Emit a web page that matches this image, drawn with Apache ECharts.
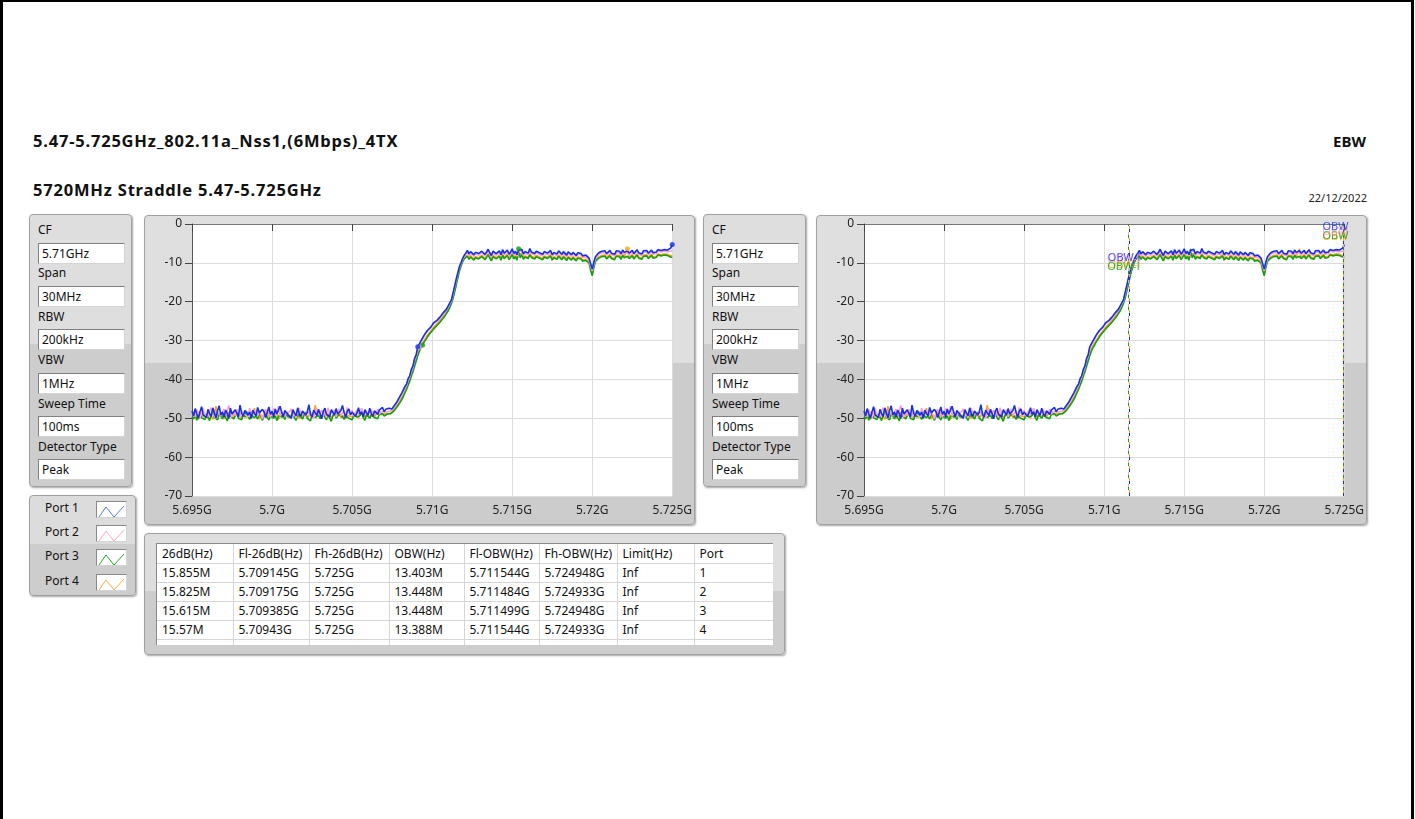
<!DOCTYPE html>
<html>
<head>
<meta charset="utf-8">
<title>EBW 5720MHz Straddle</title>
<script src="https://cdn.jsdelivr.net/npm/echarts@6/dist/echarts.min.js"></script>
<style>
html,body{margin:0;padding:0;background:#fff;}
body{width:1415px;height:819px;position:relative;overflow:hidden;font-family:'Noto Sans',sans-serif;color:#111;}
#frame{position:absolute;left:0;top:0;width:1414px;height:819px;box-sizing:border-box;border-left:3px solid #000;border-right:3px solid #000;border-top:2px solid #000;}
.title{position:absolute;font-weight:bold;font-size:16.5px;letter-spacing:0.8px;line-height:20px;white-space:nowrap;color:#111;}
.date{position:absolute;font-size:11px;line-height:14px;white-space:nowrap;color:#222;}
.panel{position:absolute;box-sizing:border-box;border:1px solid #a0a0a0;border-radius:4px;box-shadow:1px 1px 2px rgba(0,0,0,0.35);}
.lbl{position:absolute;left:8px;font-size:12px;line-height:16px;white-space:nowrap;}
.fld{position:absolute;left:8px;width:87px;height:21px;box-sizing:border-box;background:#fff;border:1px solid #808080;border-right-color:#d4d4d4;border-bottom-color:#d4d4d4;font-size:12px;line-height:19px;padding-left:3px;white-space:nowrap;}
.chart{position:absolute;}
.legrow{position:absolute;left:15px;font-size:12px;line-height:16px;white-space:nowrap;}
.legicon{position:absolute;left:66px;width:31px;height:17px;box-sizing:border-box;background:#fff;border:1px solid #8a8a8a;border-right-color:#d4d4d4;border-bottom-color:#d4d4d4;}
.tblwrap{position:absolute;left:11px;top:9px;width:617px;height:102px;overflow:hidden;background:#fff;border-top:1px solid #8a8a8a;border-left:1px solid #8a8a8a;box-sizing:border-box;}
table{border-collapse:collapse;table-layout:fixed;font-size:12px;}
td{border-right:1px solid #d6d6d6;border-bottom:1px solid #d6d6d6;padding:0 0 0 5px;height:18px;line-height:18px;white-space:nowrap;overflow:hidden;}
tr.hd td{height:19px;line-height:19px;}
tr.pad td{height:8px;}
</style>
</head>
<body>
<div id="frame"></div>

<div class="title" style="left:33px;top:131px;">5.47-5.725GHz_802.11a_Nss1,(6Mbps)_4TX</div>
<div class="title" style="right:49px;top:131px;font-size:15px;letter-spacing:0;">EBW</div>
<div class="title" style="left:33px;top:180px;">5720MHz Straddle 5.47-5.725GHz</div>
<div class="date" style="right:48px;top:191px;">22/12/2022</div>

<div id="set1" class="panel" style="left:29px;top:214px;width:103px;height:273px;background:linear-gradient(#dedede 0,#dedede 129px,#cdcdcd 129px);"></div>
<div id="set2" class="panel" style="left:703px;top:214px;width:103px;height:273px;background:linear-gradient(#dedede 0,#dedede 129px,#cdcdcd 129px);"></div>

<div class="panel" style="left:144px;top:215px;width:551px;height:310px;background:linear-gradient(#dfdfdf 0,#dfdfdf 147px,#cccccc 147px);"></div>
<div id="chartL" class="chart" style="left:144px;top:215px;width:551px;height:310px;"></div>

<div class="panel" style="left:816px;top:215px;width:551px;height:310px;background:linear-gradient(#dfdfdf 0,#dfdfdf 147px,#cccccc 147px);"></div>
<div id="chartR" class="chart" style="left:816px;top:215px;width:551px;height:310px;"></div>

<div id="legend" class="panel" style="left:29px;top:495px;width:107px;height:101px;background:linear-gradient(#dcdcdc 0,#dcdcdc 48px,#cdcdcd 48px);"></div>

<div id="tblPanel" class="panel" style="left:144px;top:533px;width:641px;height:122px;background:linear-gradient(#dedede 0,#dedede 57px,#cdcdcd 57px);">
  <div class="tblwrap"><table id="tbl"></table></div>
</div>

<script>
// Analyzer settings shown beside each trace window
const settingNames  = ['CF', 'Span', 'RBW', 'VBW', 'Sweep Time', 'Detector Type'];
const settingValues = ['5.71GHz', '30MHz', '200kHz', '1MHz', '100ms', 'Peak'];

// Sweep: 301 points, 5.695 GHz to 5.725 GHz in 0.1 MHz steps (values in dBm)
const sweepStartMHz = 5695;
const sweepStepMHz = 0.1;

const port1 = [
  // 5695.0 - 5707.4
  -48.1,-49.4,-47.5,-48.9,-50.0,-48.3,-47.0,-49.1,-48.6,-49.8,
  -47.7,-48.8,-49.6,-47.3,-48.5,-49.9,-48.0,-46.8,-49.2,-48.4,
  -49.7,-47.9,-48.7,-50.1,-47.4,-48.9,-49.3,-47.8,-48.2,-49.6,
  -46.6,-48.7,-49.5,-48.0,-47.6,-49.2,-48.4,-50.0,-47.9,-48.8,
  -49.4,-47.2,-48.6,-49.1,-47.7,-48.3,-49.8,-48.5,-47.1,-49.0,
  -48.2,-49.6,-47.6,-48.9,-49.3,-46.9,-48.4,-49.7,-48.0,-47.5,
  -49.1,-48.6,-50.0,-47.8,-48.3,-49.4,-47.3,-48.8,-49.5,-48.1,
  -47.6,-49.2,-48.5,-46.5,-48.9,-49.7,-47.9,-48.4,-49.3,-47.7,
  -48.8,-50.1,-48.2,-47.4,-49.0,-48.6,-49.6,-47.8,-48.3,-49.2,
  -47.5,-48.9,-49.4,-48.0,-46.7,-48.5,-49.8,-48.2,-47.6,-49.1,
  -48.4,-47.9,-49.5,-48.7,-47.3,-49.0,-48.3,-49.6,-47.8,-48.6,
  -49.2,-47.4,-48.8,-49.5,-48.1,-47.6,-49.0,-47.9,-48.4,-47.2,
  -48.3,-47.7,-48.0,-47.4,-47.9,
  // 5707.5 - 5712.0
  -47.6,-46.9,-46.5,-45.8,-45.0,-44.6,-43.5,-43.1,-41.8,-41.2,
  -39.8,-39.1,-37.4,-36.6,-34.6,-33.7,-31.6,-31.2,-30.1,-30.3,
  -28.6,-29.0,-27.4,-27.9,-26.6,-26.9,-25.4,-25.9,-24.8,-25.2,
  -23.9,-24.3,-22.8,-23.3,-21.9,-21.7,-20.3,-19.6,-17.8,-16.1,
  -14.2,-12.6,-11.0,-10.0,-8.9,-8.1,
  // 5712.1 - 5719.7
  -7.5,-6.8,-7.7,-7.1,-6.6,-7.9,-7.3,-6.9,-7.6,-8.0,
  -7.0,-6.7,-7.8,-7.2,-6.5,-7.4,-8.1,-7.0,-6.8,-7.6,
  -7.3,-6.9,-7.9,-6.6,-7.5,-7.1,-6.7,-7.8,-7.2,-6.4,
  -7.6,-7.0,-7.9,-6.8,-7.3,-6.5,-7.7,-7.1,-6.9,-7.5,
  -6.3,-7.2,-6.8,-7.6,-7.0,-6.6,-7.4,-6.9,-7.8,-7.1,
  -6.7,-7.5,-7.2,-6.8,-7.9,-7.3,-7.0,-7.7,-6.9,-7.4,
  -7.8,-7.1,-7.5,-8.0,-7.2,-7.6,-7.9,-7.3,-7.7,-8.1,
  -7.4,-7.8,-7.6,-8.2,-7.9,-8.0,-8.3,
  // 5719.8 - 5720.2
  -8.8,-10.2,-11.6,-9.8,-8.4,
  // 5720.3 - 5725.0
  -7.9,-7.4,-7.7,-7.0,-7.5,-6.9,-7.6,-7.2,-6.8,-7.5,
  -7.1,-7.8,-6.9,-7.4,-7.0,-7.7,-6.7,-7.3,-7.6,-6.9,
  -7.5,-7.1,-6.8,-7.6,-7.2,-6.6,-7.4,-7.0,-7.7,-6.9,
  -7.3,-6.8,-7.5,-7.1,-6.7,-7.4,-6.9,-7.2,-6.6,-7.0,
  -6.8,-7.3,-6.6,-7.0,-6.7,-6.4,-6.2,-5.3
];
const port2 = [
  -48.9,-48.2,-49.6,-47.8,-48.6,-49.9,-48.4,-47.5,-49.2,-48.7,
  -49.5,-48.0,-47.3,-49.1,-48.8,-50.0,-48.3,-47.9,-49.4,-48.5,
  -47.6,-49.2,-48.9,-46.7,-48.4,-49.7,-48.1,-49.3,-47.8,-48.6,
  -49.8,-48.2,-47.7,-49.0,-48.5,-49.6,-47.4,-48.8,-49.3,-48.0,
  -48.7,-49.5,-47.9,-48.3,-50.1,-48.6,-47.6,-49.1,-48.4,-49.7,
  -48.1,-47.5,-49.2,-48.8,-46.9,-49.4,-48.2,-47.8,-49.6,-48.5,
  -49.0,-48.3,-47.6,-49.5,-48.7,-49.9,-48.0,-47.4,-48.9,-49.3,
  -48.4,-49.7,-48.1,-47.7,-49.2,-48.6,-50.0,-48.3,-47.5,-49.1,
  -48.8,-47.9,-49.4,-48.2,-49.8,-47.3,-48.7,-49.0,-48.5,-47.8,
  -49.6,-48.4,-47.6,-49.3,-48.9,-48.1,-49.7,-47.2,-48.6,-49.2,
  -48.0,-49.5,-48.7,-47.9,-49.1,-48.3,-47.4,-49.4,-48.8,-48.2,
  -49.0,-48.5,-47.7,-49.3,-48.1,-48.7,-47.6,-48.9,-48.3,-47.8,
  -48.4,-48.0,-48.3,-47.8,-48.1,
  -47.9,-47.3,-46.8,-46.1,-45.4,-44.9,-43.9,-43.4,-42.2,-41.6,
  -40.2,-39.5,-37.8,-37.0,-35.0,-34.1,-32.0,-31.7,-30.4,-30.0,
  -28.9,-28.6,-27.6,-27.3,-26.7,-26.4,-25.6,-25.3,-25.1,-24.8,
  -24.2,-23.9,-23.2,-22.9,-22.1,-21.8,-20.6,-19.8,-18.1,-16.5,
  -14.6,-12.9,-11.3,-10.3,-9.2,-8.4,
  -7.9,-7.2,-8.1,-7.5,-7.0,-8.3,-7.7,-7.3,-8.0,-8.4,
  -7.4,-7.1,-8.2,-7.6,-6.9,-7.8,-8.5,-7.4,-7.2,-8.0,
  -7.7,-7.3,-8.3,-7.0,-7.9,-7.5,-7.1,-8.2,-7.6,-6.8,
  -8.0,-7.4,-8.3,-7.2,-7.7,-6.9,-8.1,-7.5,-7.3,-7.9,
  -6.9,-7.6,-7.2,-8.0,-7.4,-7.0,-7.8,-7.3,-8.2,-7.5,
  -7.1,-7.9,-7.6,-7.2,-8.3,-7.7,-7.4,-8.1,-7.3,-7.8,
  -8.2,-7.5,-7.9,-8.4,-7.6,-8.0,-8.3,-7.7,-8.1,-8.5,
  -7.8,-8.2,-8.0,-8.6,-8.3,-8.4,-8.7,
  -9.2,-10.8,-12.0,-10.3,-8.8,
  -8.3,-7.8,-8.1,-7.4,-7.9,-7.3,-8.0,-7.6,-7.2,-7.9,
  -7.5,-8.2,-7.3,-7.8,-7.4,-8.1,-7.1,-7.7,-8.0,-7.3,
  -7.9,-7.5,-7.2,-8.0,-7.6,-7.0,-7.8,-7.4,-8.1,-7.3,
  -7.7,-7.2,-7.9,-7.5,-7.1,-7.8,-7.3,-7.6,-7.0,-7.4,
  -7.2,-7.7,-7.0,-7.4,-7.1,-7.3,-7.0,-6.8
];
const port3 = [
  -49.6,-50.2,-49.0,-50.5,-49.3,-48.7,-49.9,-49.4,-50.3,-48.9,
  -49.7,-50.6,-49.1,-47.8,-49.8,-49.3,-50.4,-48.9,-49.5,-50.1,
  -48.6,-49.8,-50.7,-49.2,-48.8,-49.6,-50.2,-49.4,-48.5,-50.0,
  -49.5,-50.4,-49.0,-49.7,-48.1,-49.5,-50.3,-49.1,-48.9,-49.9,
  -49.3,-50.2,-48.7,-49.6,-50.5,-49.2,-48.8,-49.7,-50.4,-49.4,
  -49.0,-50.0,-49.3,-50.6,-49.5,-48.9,-49.8,-49.2,-50.3,-48.6,
  -49.7,-50.1,-49.4,-48.8,-49.9,-50.5,-49.1,-48.7,-49.6,-50.2,
  -49.3,-48.4,-50.0,-49.5,-50.7,-49.0,-48.9,-49.8,-50.3,-49.2,
  -50.1,-49.4,-48.8,-49.7,-50.4,-49.1,-49.6,-50.8,-49.3,-48.7,
  -49.9,-50.2,-49.0,-48.5,-49.6,-50.3,-49.4,-48.9,-50.0,-49.5,
  -50.4,-49.2,-48.8,-49.7,-50.1,-49.3,-48.6,-49.9,-50.5,-49.1,
  -49.4,-50.0,-49.2,-48.7,-49.8,-49.3,-50.1,-49.0,-49.5,-48.8,
  -49.4,-49.1,-48.9,-49.2,-48.8,
  -48.6,-48.2,-47.8,-47.1,-46.5,-45.9,-45.2,-44.4,-43.5,-42.6,
  -41.5,-40.5,-39.2,-38.0,-36.7,-35.3,-33.9,-32.8,-31.8,-31.2,
  -30.4,-29.9,-29.1,-28.6,-28.0,-27.6,-27.0,-26.5,-26.1,-25.6,
  -25.2,-24.7,-24.2,-23.6,-23.0,-22.4,-21.5,-20.5,-19.2,-17.6,
  -15.8,-13.9,-12.2,-10.9,-9.8,-9.0,
  -8.9,-8.3,-9.1,-8.5,-8.0,-9.3,-8.7,-8.2,-9.0,-9.4,
  -8.4,-8.1,-9.2,-8.6,-7.9,-8.8,-9.5,-8.4,-8.2,-9.0,
  -8.7,-8.3,-9.3,-8.0,-8.9,-8.5,-8.1,-9.2,-8.6,-7.8,
  -9.0,-8.4,-9.3,-6.4,-8.7,-7.9,-9.1,-8.5,-8.3,-8.9,
  -7.9,-8.6,-8.2,-9.0,-8.4,-8.0,-8.8,-8.3,-9.2,-8.5,
  -8.1,-8.9,-8.6,-8.2,-9.3,-8.7,-8.4,-9.1,-8.3,-8.8,
  -9.2,-8.5,-8.9,-9.4,-8.6,-9.0,-9.3,-8.7,-9.1,-9.5,
  -8.8,-9.2,-9.0,-9.6,-9.3,-9.4,-9.7,
  -10.0,-11.9,-13.3,-11.2,-9.6,
  -9.3,-8.8,-9.1,-8.4,-8.9,-8.3,-9.0,-8.6,-8.2,-8.9,
  -8.5,-9.2,-8.3,-8.8,-8.4,-9.1,-8.1,-8.7,-9.0,-8.3,
  -8.9,-8.5,-8.2,-9.0,-8.6,-8.0,-8.8,-8.4,-9.1,-8.3,
  -8.7,-8.2,-8.9,-8.5,-8.1,-8.8,-8.3,-8.6,-8.0,-8.4,
  -8.2,-8.7,-8.0,-8.4,-8.1,-8.3,-8.5,-8.6
];
const port4 = [
  -49.2,-48.5,-50.0,-49.0,-50.4,-49.3,-48.2,-49.7,-49.1,-48.8,
  -50.1,-48.6,-49.4,-50.3,-48.9,-46.9,-49.5,-49.8,-48.7,-49.3,
  -50.2,-49.0,-49.6,-48.4,-49.2,-50.0,-48.8,-49.4,-47.7,-49.7,
  -48.9,-50.3,-49.1,-48.6,-49.8,-49.3,-48.5,-50.1,-49.0,-47.4,
  -49.5,-48.7,-50.2,-49.2,-48.9,-49.6,-48.4,-49.8,-49.1,-48.7,
  -49.7,-49.0,-49.4,-48.8,-50.3,-49.3,-48.9,-49.6,-49.0,-49.4,
  -48.6,-50.0,-49.2,-48.5,-49.9,-49.4,-48.3,-50.2,-48.8,-49.5,
  -49.1,-48.6,-50.1,-49.3,-48.7,-49.8,-49.0,-46.6,-49.5,-49.2,
  -48.9,-50.0,-49.3,-48.6,-49.7,-49.1,-48.5,-50.2,-49.4,-48.8,
  -49.6,-49.0,-48.4,-49.9,-49.2,-48.7,-50.1,-49.3,-48.9,-49.5,
  -49.0,-49.7,-48.6,-49.4,-50.0,-48.8,-49.3,-48.5,-49.8,-49.1,
  -48.7,-49.5,-49.0,-48.4,-49.6,-48.9,-49.2,-48.5,-49.1,-48.6,
  -48.9,-48.6,-48.8,-48.5,-48.7,
  -48.3,-47.9,-47.4,-46.8,-46.1,-45.5,-44.7,-43.9,-42.9,-42.0,
  -40.9,-39.8,-38.5,-37.3,-35.9,-34.6,-33.2,-32.2,-31.3,-30.8,
  -30.0,-29.4,-28.7,-28.1,-27.6,-27.1,-26.6,-26.1,-25.7,-25.2,
  -24.8,-24.3,-23.8,-23.2,-22.6,-22.0,-21.1,-20.1,-18.8,-17.2,
  -15.4,-13.5,-11.8,-10.5,-9.5,-8.7,
  -8.6,-8.0,-8.8,-8.2,-7.7,-9.0,-8.4,-7.9,-8.7,-9.1,
  -8.1,-7.8,-8.9,-8.3,-7.6,-8.5,-9.2,-8.1,-7.9,-8.7,
  -8.4,-8.0,-9.0,-7.7,-8.6,-8.2,-7.8,-8.9,-8.3,-7.5,
  -8.7,-8.1,-9.0,-7.9,-8.4,-7.6,-8.8,-8.2,-8.0,-8.6,
  -7.6,-8.3,-7.9,-8.7,-8.1,-7.7,-8.5,-8.0,-8.9,-8.2,
  -7.8,-8.6,-8.3,-7.9,-9.0,-8.4,-8.1,-8.8,-8.0,-8.5,
  -8.9,-8.2,-8.6,-9.1,-8.3,-8.7,-9.0,-8.4,-8.8,-9.2,
  -8.5,-8.9,-8.7,-9.3,-9.0,-9.1,-9.4,
  -9.7,-11.4,-12.8,-10.8,-9.2,
  -9.0,-8.5,-8.8,-8.1,-8.6,-8.0,-8.7,-8.3,-7.9,-8.6,
  -8.2,-8.9,-8.0,-8.5,-8.1,-8.8,-7.8,-8.4,-8.7,-6.4,
  -8.6,-8.2,-7.9,-8.7,-8.3,-7.7,-8.5,-8.1,-8.8,-8.0,
  -8.4,-7.9,-8.6,-8.2,-7.8,-8.5,-8.0,-8.3,-7.7,-8.1,
  -7.9,-8.4,-7.7,-8.1,-7.8,-8.0,-8.2,-8.1
];

// Result table (one row per port)
const tableHeader = ['26dB(Hz)', 'Fl-26dB(Hz)', 'Fh-26dB(Hz)', 'OBW(Hz)', 'Fl-OBW(Hz)', 'Fh-OBW(Hz)', 'Limit(Hz)', 'Port'];
const bw26   = ['15.855M', '15.825M', '15.615M', '15.57M'];
const fl26   = ['5.709145G', '5.709175G', '5.709385G', '5.70943G'];
const fh26   = ['5.725G', '5.725G', '5.725G', '5.725G'];
const obw    = ['13.403M', '13.448M', '13.448M', '13.388M'];
const flObw  = ['5.711544G', '5.711484G', '5.711499G', '5.711544G'];
const fhObw  = ['5.724948G', '5.724933G', '5.724948G', '5.724933G'];
const limit  = ['Inf', 'Inf', 'Inf', 'Inf'];
const portNo = ['1', '2', '3', '4'];

// Marker frequencies (MHz) on the left trace window: -26 dB edges and peaks
const markerMHz = [[5709.145, 5725.0], [5709.175], [5709.385, 5715.4], [5722.2]];
// Levels (dBm) at which the OBW-l / OBW-h marker captions sit
const obwLowLevel  = [-8.8, -9.0, -11.0, -10.6];
const obwHighLevel = [-0.8, -2.0, -3.0, -3.2];

const portNames  = ['Port 1', 'Port 2', 'Port 3', 'Port 4'];
const portColors = ['#1432e2', '#ff9fd0', '#14a014', '#ffa21e'];
const iconColors = ['#5778e0', '#f6a9d2', '#2a9e2a', '#ffab3e'];
const portValues = [port1, port2, port3, port4];

const FONT = "'Noto Sans', sans-serif";
const freqMHz = port1.map((_, i) => Math.round((sweepStartMHz + i * sweepStepMHz) * 10) / 10);
const toMHz = s => parseFloat(s) * 1000;
const nearest = f => Math.max(0, Math.min(freqMHz.length - 1, Math.round((f - sweepStartMHz) / sweepStepMHz)));

// ---- settings panels ----
const labelCY = [16, 59, 103, 146, 190, 233];
const fieldTop = [28, 71, 114, 158, 201, 244];
['set1', 'set2'].forEach(id => {
  const host = document.getElementById(id);
  settingNames.forEach((n, i) => {
    const l = document.createElement('div');
    l.className = 'lbl'; l.style.top = (labelCY[i] - 9) + 'px'; l.textContent = n;
    host.appendChild(l);
    const f = document.createElement('div');
    f.className = 'fld'; f.style.top = fieldTop[i] + 'px'; f.textContent = settingValues[i];
    host.appendChild(f);
  });
});

// ---- port legend ----
const legHost = document.getElementById('legend');
const rowCY = [13, 37, 61, 86];
portNames.forEach((n, i) => {
  const t = document.createElement('div');
  t.className = 'legrow'; t.style.top = (rowCY[i] - 9) + 'px'; t.textContent = n;
  legHost.appendChild(t);
  const ic = document.createElement('div');
  ic.className = 'legicon'; ic.style.top = (rowCY[i] - 8) + 'px';
  ic.innerHTML = '<svg width="29" height="15"><polyline points="2,13 9,3 17,13 27,2" fill="none" stroke="' + iconColors[i] + '" stroke-width="1"/></svg>';
  legHost.appendChild(ic);
});

// ---- result table ----
const colW = [76, 76, 80, 75, 75, 78, 77, 79];
const tbl = document.getElementById('tbl');
let html = '<colgroup>' + colW.map(w => '<col style="width:' + w + 'px">').join('') + '</colgroup>';
html += '<tr class="hd">' + tableHeader.map(h => '<td>' + h + '</td>').join('') + '</tr>';
for (let r = 0; r < 4; r++) {
  const row = [bw26[r], fl26[r], fh26[r], obw[r], flObw[r], fhObw[r], limit[r], portNo[r]];
  html += '<tr>' + row.map(v => '<td>' + v + '</td>').join('') + '</tr>';
}
html += '<tr class="pad">' + colW.map(() => '<td></td>').join('') + '</tr>';
tbl.innerHTML = html;
tbl.style.width = colW.reduce((a, b) => a + b, 0) + 'px';

// ---- trace windows ----
function buildOption(withObw) {
  const order = [3, 2, 1, 0];
  const series = [];
  order.forEach(k => {
    const s = {
      type: 'line', name: portNames[k],
      data: freqMHz.map((f, i) => [f, portValues[k][i]]),
      showSymbol: false, symbol: 'none', clip: true, z: 2,
      lineStyle: { color: portColors[k], width: 1.6 },
      itemStyle: { color: portColors[k] },
      emphasis: { disabled: true }
    };
    if (withObw) {
      s.markLine = {
        silent: true, symbol: ['none', 'none'], label: { show: false },
        lineStyle: { color: portColors[k], type: [3, 9], dashOffset: k * 3, width: 1 },
        data: [{ xAxis: toMHz(flObw[k]) }, { xAxis: toMHz(fhObw[k]) }]
      };
    }
    series.push(s);
  });
  if (withObw) {
    order.forEach(k => {
      series.push({
        type: 'scatter', symbolSize: 0, z: 5, silent: true,
        label: { show: true, position: 'inside', align: 'left', verticalAlign: 'middle', offset: [-21, 0],
                 color: portColors[k], fontSize: 11, fontFamily: FONT },
        data: [
          { value: [toMHz(flObw[k]), obwLowLevel[k]], label: { formatter: 'OBW-l' } },
          { value: [toMHz(fhObw[k]), obwHighLevel[k]], label: { formatter: 'OBW-h', width: 27, overflow: 'truncate', ellipsis: '' } }
        ]
      });
    });
  } else {
    order.forEach(k => {
      series.push({
        type: 'scatter', symbolSize: 5, z: 4, silent: true,
        itemStyle: { color: portColors[k] },
        data: markerMHz[k].map(f => { const i = nearest(f); return [freqMHz[i], portValues[k][i]]; })
      });
    });
  }
  const axisLine = { show: true, lineStyle: { color: '#555', width: 1 } };
  const split = { show: true, lineStyle: { color: '#dcdcdc', width: 1 } };
  return {
    animation: false,
    grid: { left: 48, top: 9, width: 481, height: 272, show: true, backgroundColor: '#ffffff', borderWidth: 0 },
    xAxis: [
      { type: 'value', min: 5695, max: 5725, interval: 5, axisLine,
        axisTick: { show: true, length: 7, lineStyle: { color: '#444' } },
        axisLabel: { margin: 9, color: '#222', fontSize: 12, fontFamily: FONT, formatter: v => (v / 1000) + 'G' },
        splitLine: split },
      { type: 'value', position: 'top', min: 5695, max: 5725, axisLine: { show: true, lineStyle: { color: '#777' } },
        axisTick: { show: false }, axisLabel: { show: false }, splitLine: { show: false } }
    ],
    yAxis: { type: 'value', min: -70, max: 0, interval: 10, axisLine,
      axisTick: { show: true, length: 7, lineStyle: { color: '#444' } },
      axisLabel: { margin: 10, color: '#222', fontSize: 12, fontFamily: FONT },
      splitLine: split },
    series
  };
}

echarts.init(document.getElementById('chartL'), null, { renderer: 'canvas' }).setOption(buildOption(false));
echarts.init(document.getElementById('chartR'), null, { renderer: 'canvas' }).setOption(buildOption(true));
</script>
</body>
</html>
